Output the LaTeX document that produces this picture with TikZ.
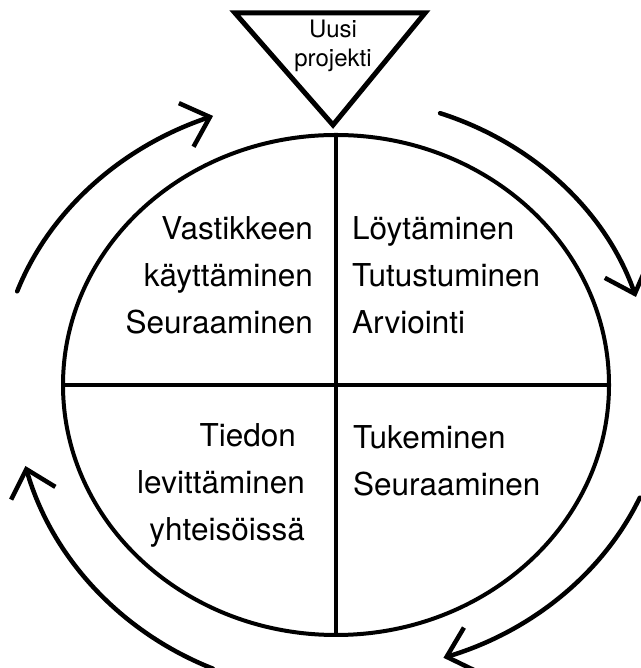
\documentclass[tikz,border=0pt]{standalone}
\usepackage{fontspec}
\setmainfont{TeX Gyre Heros}
\usetikzlibrary{arrows.meta,calc}

\begin{document}
\begin{tikzpicture}[
  x=1pt, y=1pt,
  rim/.style={draw=black, line width=4pt},
  cyc/.style={-{Straight Barb[length=25pt, width=46pt]},
              line width=4.5pt, line cap=round},
  phase/.style={inner sep=0pt, font=\fontsize{31.5}{47}\selectfont},
  start/.style={inner sep=0pt, align=center,
                font=\fontsize{24}{29}\selectfont},
]
  \useasboundingbox (0,0) rectangle (640,668);
  \coordinate (ctr) at (336,283);

  % the cycle itself, cut in four
  \draw[rim] (ctr) ellipse [x radius=273, y radius=250];
  \draw[rim] ([xshift=-273]ctr) -- ([xshift=273]ctr);
  \draw[rim] ([yshift=250]ctr) -- ([yshift=-250]ctr);

  % entry point on top
  \coordinate (tl) at (235,655);
  \coordinate (tr) at (425,655);
  \coordinate (tip) at (333,543);
  \draw[line width=5pt, line join=miter] (tl) -- (tr) -- (tip) -- cycle;
  \node[start] (uusi) at (333,622) {Uusi\\projekti};

  % the four phases
  \node[phase, align=right, anchor=north east] (vast) at (313,452)
       {Vastikkeen\\käyttäminen\\Seuraaminen};
  \node[phase, align=left, anchor=north west]  (loyt) at (352,452)
       {Löytäminen\\Tutustuminen\\Arviointi};
  \node[phase, align=right, anchor=north east] (tied) at (305,245)
       {Tiedon\kern0.28em\\levittäminen\\yhteisöissä};
  \node[phase, align=left, anchor=north west]  (tuke) at (353,243)
       {Tukeminen\\Seuraaminen};

  % clockwise arrows round the outside
  \coordinate (a1) at ($(ctr)+(161.1:337 and 289)$);
  \coordinate (a2) at ($(ctr)+(70.7:315 and 288)$);
  \coordinate (a3) at ($(ctr)+(-23:330 and 288.5)$);
  \coordinate (a4) at ($(ctr)+(247.5:322 and 307)$);
  \draw[cyc] (a1) arc[start angle=161.1, end angle=111.4, x radius=337, y radius=289];
  \draw[cyc] (a2) arc[start angle=70.7, end angle=17.8, x radius=315, y radius=288];
  \draw[cyc] (a3) arc[start angle=-23, end angle=-71, x radius=330, y radius=288.5];
  \draw[cyc] (a4) arc[start angle=247.5, end angle=195.3, x radius=322, y radius=307];
\end{tikzpicture}
\end{document}
